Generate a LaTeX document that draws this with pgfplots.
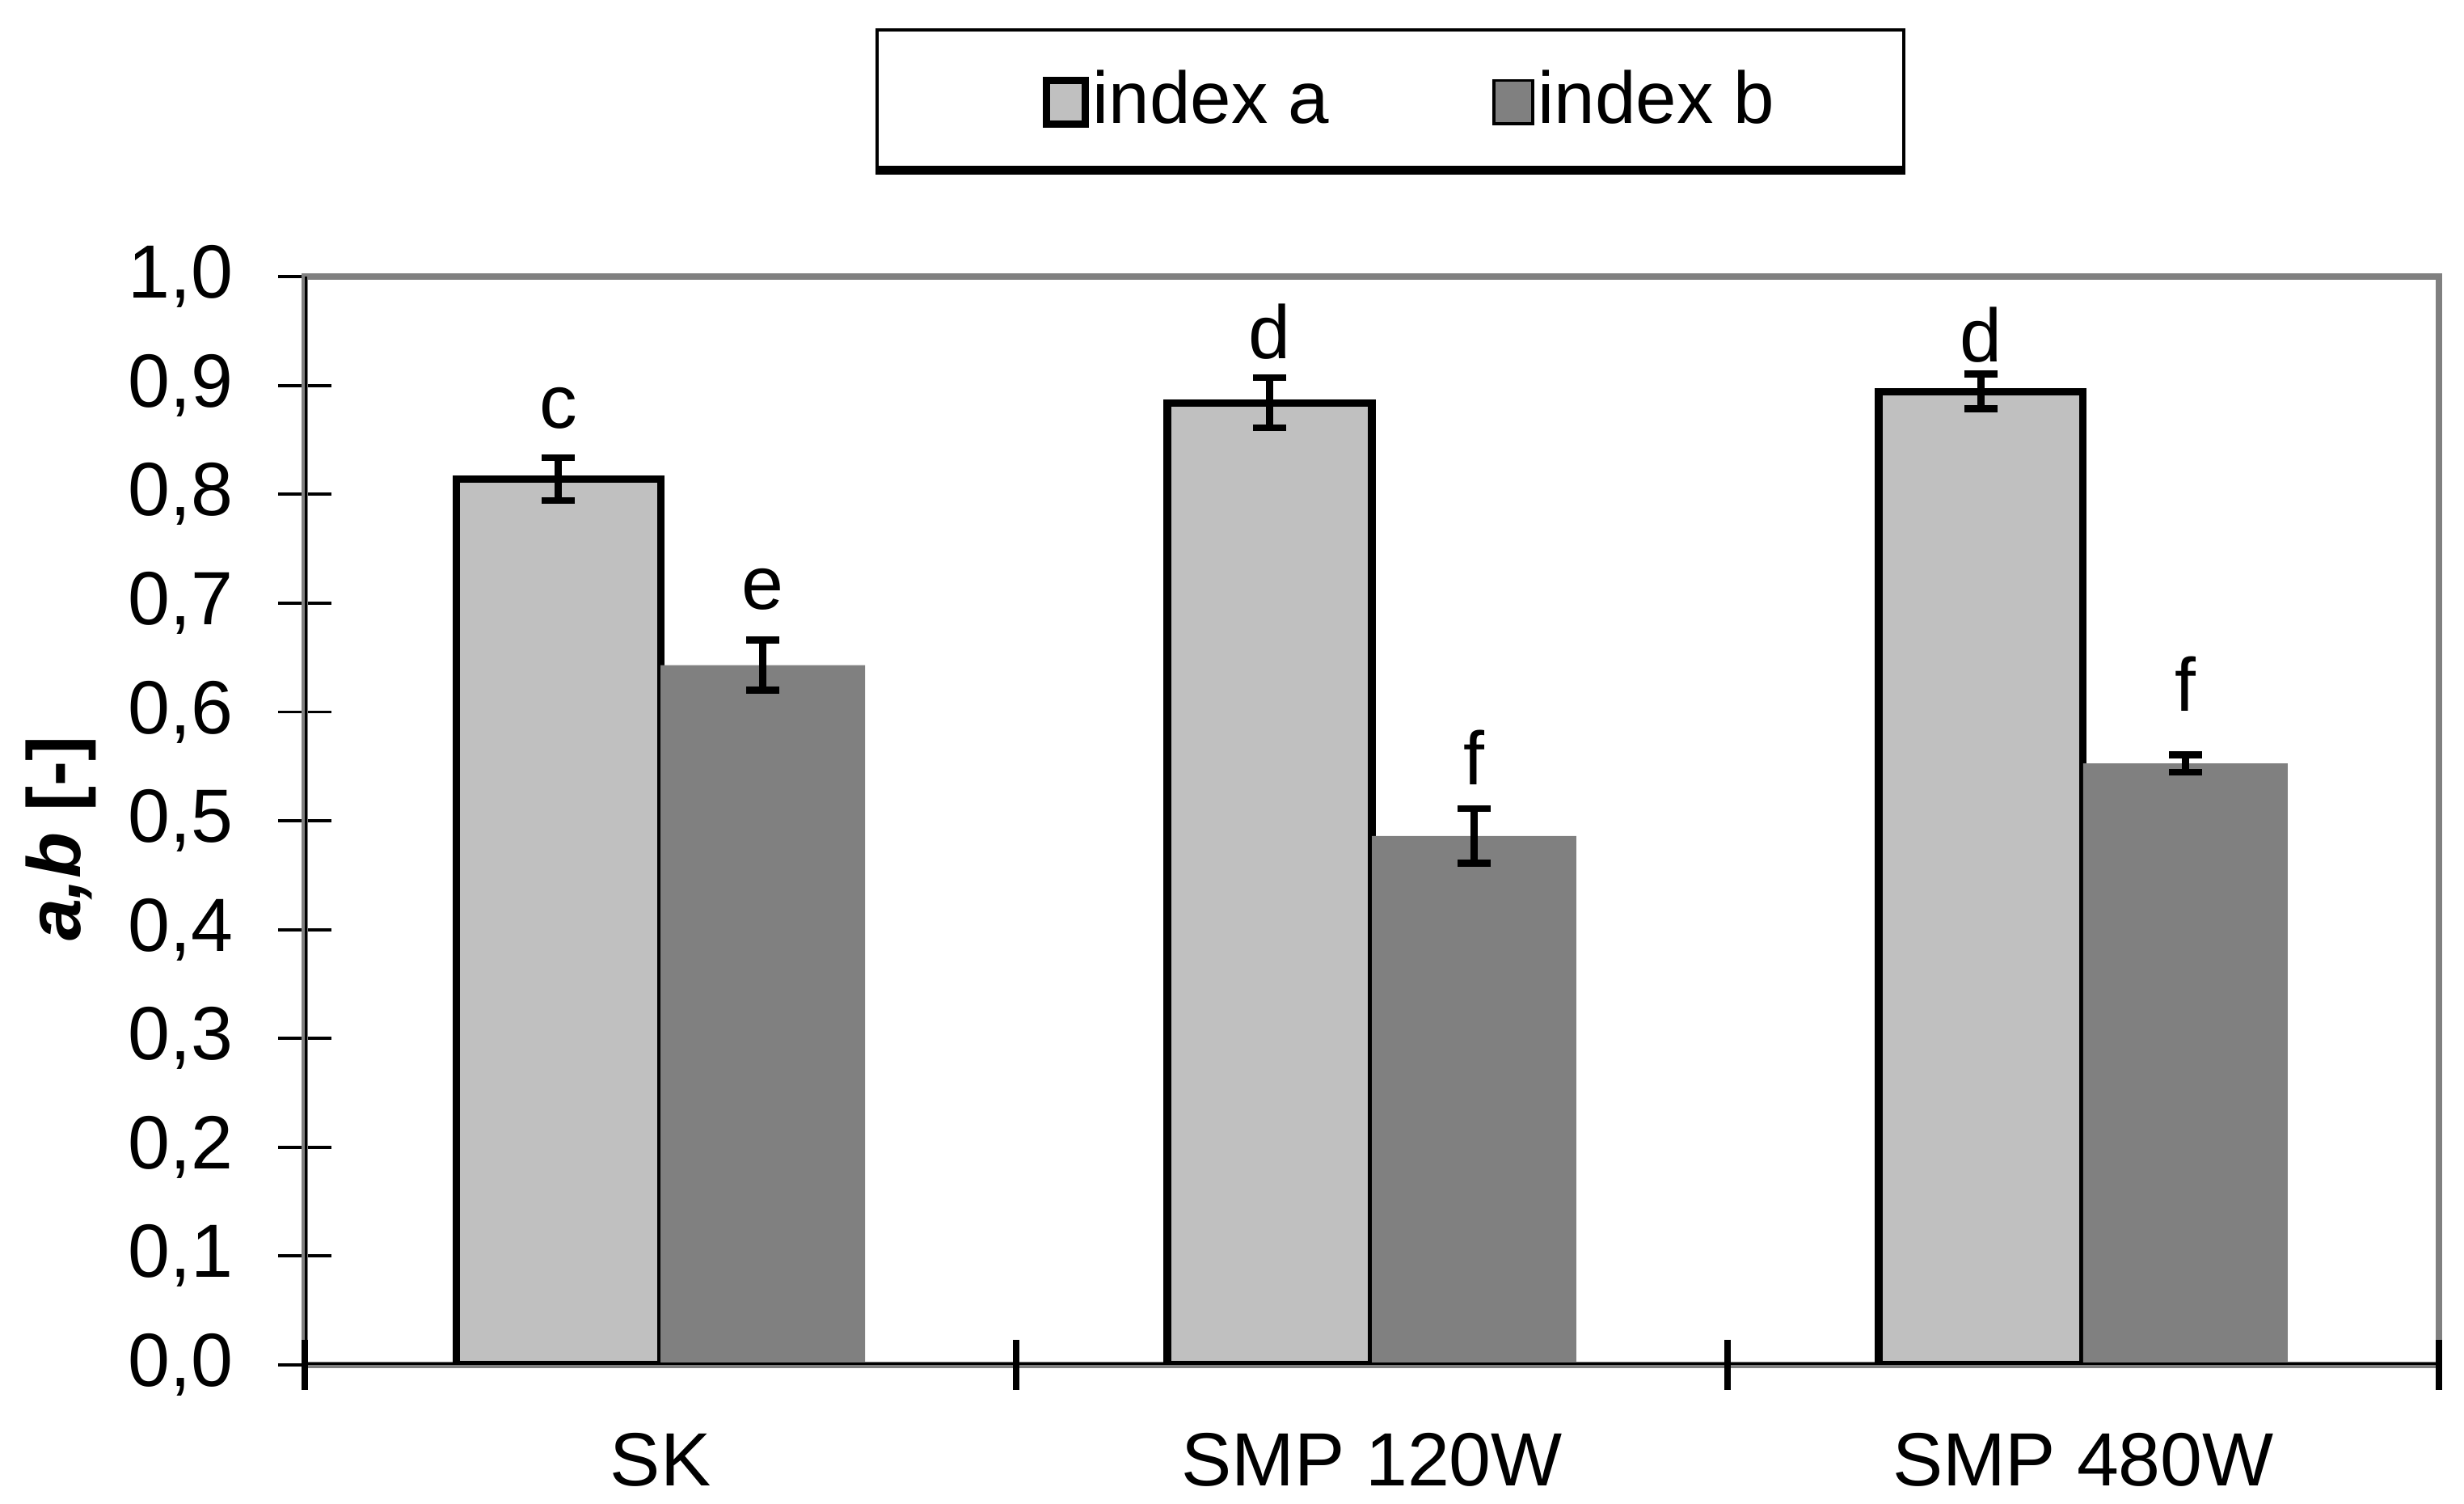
\documentclass[border=0pt]{standalone}
\usepackage{fontspec}
\setmainfont{Liberation Sans}
\usepackage{pgfplots}
\pgfplotsset{compat=1.18}
\definecolor{barA}{HTML}{C0C0C0}
\definecolor{barB}{HTML}{808080}
\definecolor{framegray}{HTML}{808080}
\newcommand{\fs}{\fontsize{14.4pt}{17pt}\selectfont}
\pgfplotsset{
  mylegend/.style={legend image code/.code={\path (-7pt,0pt); \draw[##1] (0pt,-5.25pt) rectangle (7.4pt,3.05pt);}},
}
\begin{document}
\begin{tikzpicture}
\begin{axis}[
  scale only axis, width=407.4pt, height=207.7pt,
  xmin=-0.5, xmax=2.5, ymin=0, ymax=1,
  axis line style={draw=framegray, line width=1.2pt},
  xtick pos=bottom, ytick pos=left,
  xtick={0,1,2}, xticklabels={SK, SMP 120W, SMP 480W},
  xtick style={draw=none},
  extra x ticks={-0.5,0.5,1.5,2.5}, extra x tick labels={},
  extra x tick style={xtick style={draw=black, line width=1.2pt}, major tick length=9.6pt},
  ytick={0,0.1,0.2,0.3,0.4,0.5,0.6,0.7,0.8,0.9,1.0},
  ytick style={draw=black, line width=0.6pt},
  tick align=center, major tick length=10.2pt,
  yticklabel style={font=\fs, anchor=east, inner sep=0pt, xshift=-8.4pt,
    /pgf/number format/.cd, fixed, fixed zerofill, precision=1, use comma, assume math mode=true},
  xticklabel style={font=\fs, anchor=north, inner sep=0pt, yshift=-7.7pt},
  ylabel={\textbf{\textit{a,b} [-]}},
  every axis y label/.style={at={([xshift=-46.6pt]rel axis cs:0,0.4837)}, rotate=90, anchor=center, inner sep=0pt, font=\fs},
  legend columns=2,
  legend style={name=leg, at={(0.5087,1)}, anchor=center, yshift=34pt, draw=black, line width=0.6pt,
    font=\fontsize{14pt}{17pt}\selectfont, inner xsep=24.6pt, inner ysep=7.6pt,
    /tikz/every odd column/.append style={column sep=0.7pt},
    /tikz/every even column/.append style={column sep=24.5pt},
    nodes={inner sep=0pt, text height=10.3pt, text depth=0pt}},
]
\addplot[ybar, bar width=0.2875, bar shift=0, fill=barA, draw=black, line width=1.4pt, mylegend,
  error bars/.cd, y dir=both, y explicit,
  error bar style={line width=1.3pt, black},
  error mark options={rotate=90, mark size=3.1pt, line width=1.3pt, black}]
  coordinates {(-0.14375,0.814) +- (0,0.0197) (0.85625,0.884) +- (0,0.023) (1.85625,0.8945) +- (0,0.016)};
\addlegendentry{index a}
\addplot[ybar, bar width=0.2875, bar shift=0, fill=barB, draw=none, mylegend,
  error bars/.cd, y dir=both, y explicit,
  error bar style={line width=1.3pt, black},
  error mark options={rotate=90, mark size=3.1pt, line width=1.3pt, black}]
  coordinates {(0.14375,0.643) +- (0,0.023) (1.14375,0.486) +- (0,0.025) (2.14375,0.5527) +- (0,0.008)};
\addlegendentry{index b}
\addplot[draw=none, mark=none, forget plot, nodes near coords, point meta=explicit symbolic,
  nodes near coords align={anchor=base},
  every node near coord/.append style={font=\fs, inner sep=0pt, anchor=base, text=black}]
  table[meta=lab] {
x y lab
-0.14375 0.861 c
0.14375 0.694 e
0.85625 0.925 d
1.14375 0.533 f
1.85625 0.922 d
2.14375 0.601 f
};
\draw[black, line width=0.9pt] (rel axis cs:0,1) -- (rel axis cs:0,0) -- (rel axis cs:1,0);
\coordinate (O) at (rel axis cs:0,0);
\coordinate (T) at (rel axis cs:1,1);
\end{axis}
\draw[black, line width=1.5pt] ([yshift=-0.4pt]leg.south west) -- ([yshift=-0.4pt]leg.south east);
\path (O) ++(-58.2pt,-26.4pt) coordinate (BL);
\path (T) ++(4.8pt,52.8pt) coordinate (TR);
\pgfresetboundingbox
\path[use as bounding box] (BL) rectangle (TR);
\end{tikzpicture}
\end{document}
